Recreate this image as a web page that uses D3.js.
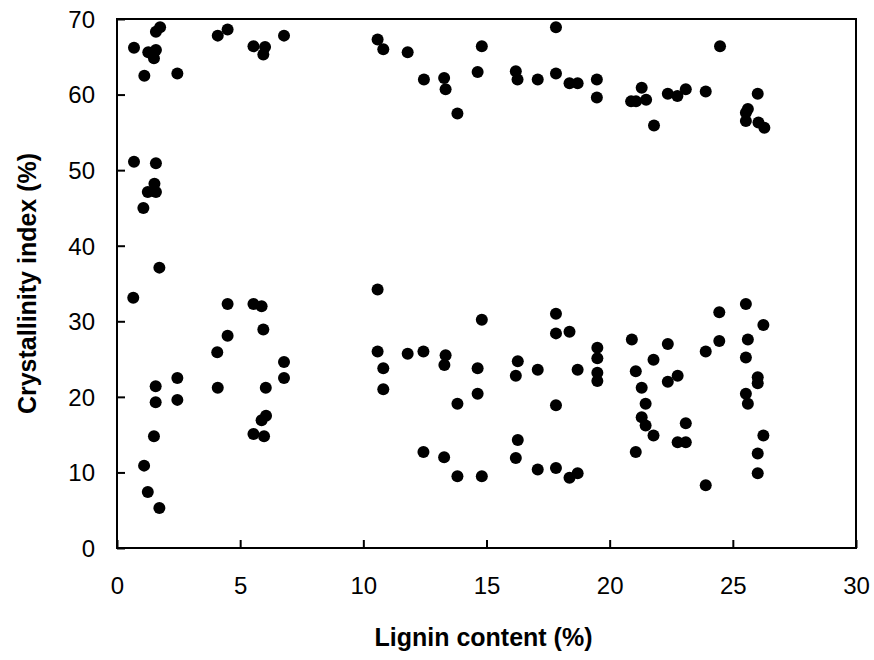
<!DOCTYPE html>
<html>
<head>
<meta charset="utf-8">
<script src="https://cdn.jsdelivr.net/npm/d3@7"></script>
<style>
  html, body { margin: 0; padding: 0; background: #fff; }
  svg { display: block; }
</style>
</head>
<body>
<svg id="chart" width="874" height="660"></svg>
<script>
// Lignin content (%) — x values
const lignin = [
  0.69, 1.11, 1.27, 1.58, 1.50, 1.58, 1.75, 2.45, 4.09, 4.49, 5.54, 6.01, 5.94, 6.78,
  0.69, 1.58, 1.52, 1.25, 1.58, 1.07, 1.72, 0.66,
  4.49, 5.54, 5.87, 5.94, 4.49, 4.07, 6.78, 6.78, 2.45, 2.45, 1.57, 1.57, 1.50, 1.10,
  4.09, 6.04, 6.05, 5.87, 5.54, 5.97, 1.25, 1.72,
  10.58, 10.81, 11.80, 12.46, 13.28, 13.34, 13.82, 14.64, 14.81, 16.19, 16.26, 17.08,
  17.82, 17.82, 18.37, 18.70, 19.48, 19.48,
  20.87, 21.07, 21.30, 21.48, 21.80, 22.36, 22.75, 23.09, 23.90, 24.48, 26.01, 25.61,
  25.53, 25.53, 26.04, 26.28,
  10.58, 10.58, 10.81, 10.81, 11.80, 12.44, 13.34, 13.29, 13.82, 14.64, 14.64, 14.81,
  16.27, 16.19, 17.08, 17.82, 17.82, 18.37, 18.70, 17.82, 19.50, 19.50, 19.50, 19.50,
  12.44, 13.28, 13.82, 14.81, 16.27, 16.19, 17.08, 17.82, 18.37, 18.70,
  20.90, 21.06, 21.30, 21.46, 21.30, 21.46, 21.78, 21.06, 21.78, 22.36, 22.36, 22.76,
  23.09, 22.76, 23.09, 23.90, 23.90, 24.45, 24.45, 25.53, 26.24, 25.61, 25.53, 26.01,
  26.01, 25.53, 25.61, 26.24, 26.01, 26.01
];
// Crystallinity index (%) — y values
const crystallinity = [
  66.2, 62.5, 65.6, 65.9, 64.8, 68.3, 68.9, 62.8, 67.8, 68.6, 66.4, 66.3, 65.3, 67.8,
  51.1, 50.9, 48.2, 47.1, 47.1, 45.0, 37.1, 33.1,
  32.3, 32.3, 32.0, 28.9, 28.1, 25.9, 24.6, 22.5, 22.5, 19.6, 21.4, 19.3, 14.8, 10.9,
  21.2, 21.2, 17.5, 16.9, 15.1, 14.8, 7.4, 5.3,
  67.3, 66.0, 65.6, 62.0, 62.2, 60.7, 57.5, 63.0, 66.4, 63.1, 62.0, 62.0,
  68.9, 62.8, 61.5, 61.5, 62.0, 59.6,
  59.1, 59.1, 60.9, 59.3, 55.9, 60.1, 59.8, 60.7, 60.4, 66.4, 60.1, 58.1,
  57.6, 56.5, 56.3, 55.6,
  34.2, 26.0, 23.8, 21.0, 25.7, 26.0, 25.5, 24.2, 19.1, 23.8, 20.4, 30.2,
  24.7, 22.8, 23.6, 31.0, 28.4, 28.6, 23.6, 18.9, 26.5, 25.1, 23.2, 22.1,
  12.7, 12.0, 9.5, 9.5, 14.3, 11.9, 10.4, 10.6, 9.3, 9.9,
  27.6, 23.4, 21.2, 19.1, 17.3, 16.2, 14.9, 12.7, 24.9, 27.0, 22.0, 22.8,
  16.5, 14.0, 14.0, 26.0, 8.3, 31.2, 27.4, 32.3, 29.5, 27.6, 25.2, 22.6,
  21.8, 20.4, 19.1, 14.9, 12.5, 9.9
];
const xTicks = [0, 5, 10, 15, 20, 25, 30];
const yTicks = [0, 10, 20, 30, 40, 50, 60, 70];
const xTitle = "Lignin content (%)";
const yTitle = "Crystallinity index (%)";

const svg = d3.select("#chart");
const margin = { left: 117, right: 18, top: 19, bottom: 112 };
const W = 874, H = 660;
const iw = W - margin.left - margin.right;
const ih = H - margin.top - margin.bottom;

const x = d3.scaleLinear().domain([0, 30]).range([0, iw]);
const y = d3.scaleLinear().domain([0, 70]).range([ih, 0]);

const g = svg.append("g").attr("transform", `translate(${margin.left},${margin.top})`);

const font = "'Liberation Sans', Arial, Helvetica, sans-serif";

// X axis (ticks inward)
const xAxis = g.append("g")
  .attr("transform", `translate(0,${ih})`)
  .call(d3.axisBottom(x).tickValues(xTicks).tickSize(-8).tickPadding(0).tickFormat(d3.format("d")));
xAxis.select(".domain").remove();
xAxis.selectAll(".tick line").attr("stroke", "#000").attr("stroke-width", 2);
xAxis.selectAll(".tick text")
  .attr("y", 46).attr("dy", 0)
  .attr("font-family", font).attr("font-size", 24).attr("fill", "#000");

// Y axis (ticks inward)
const yAxis = g.append("g")
  .call(d3.axisLeft(y).tickValues(yTicks).tickSize(-8).tickPadding(0).tickFormat(d3.format("d")));
yAxis.select(".domain").remove();
yAxis.selectAll(".tick line").attr("stroke", "#000").attr("stroke-width", 2);
yAxis.selectAll(".tick text")
  .attr("x", -22).attr("dy", "0.35em")
  .attr("font-family", font).attr("font-size", 24).attr("fill", "#000");

// Frame
g.append("rect")
  .attr("x", 0).attr("y", 0).attr("width", iw).attr("height", ih)
  .attr("fill", "none").attr("stroke", "#000").attr("stroke-width", 2);

// Points
const data = lignin.map((v, i) => ({ x: v, y: crystallinity[i] }));
g.append("g").selectAll("circle").data(data).join("circle")
  .attr("cx", d => x(d.x)).attr("cy", d => y(d.y))
  .attr("r", 6).attr("fill", "#000");

// Axis titles
svg.append("text")
  .attr("x", margin.left + iw / 2 - 3).attr("y", 646)
  .attr("text-anchor", "middle")
  .attr("font-family", font).attr("font-weight", "bold").attr("font-size", 25)
  .text(xTitle);

svg.append("text")
  .attr("transform", `translate(36,${margin.top + ih / 2}) rotate(-90)`)
  .attr("text-anchor", "middle")
  .attr("font-family", font).attr("font-weight", "bold").attr("font-size", 25)
  .text(yTitle);
</script>
</body>
</html>
